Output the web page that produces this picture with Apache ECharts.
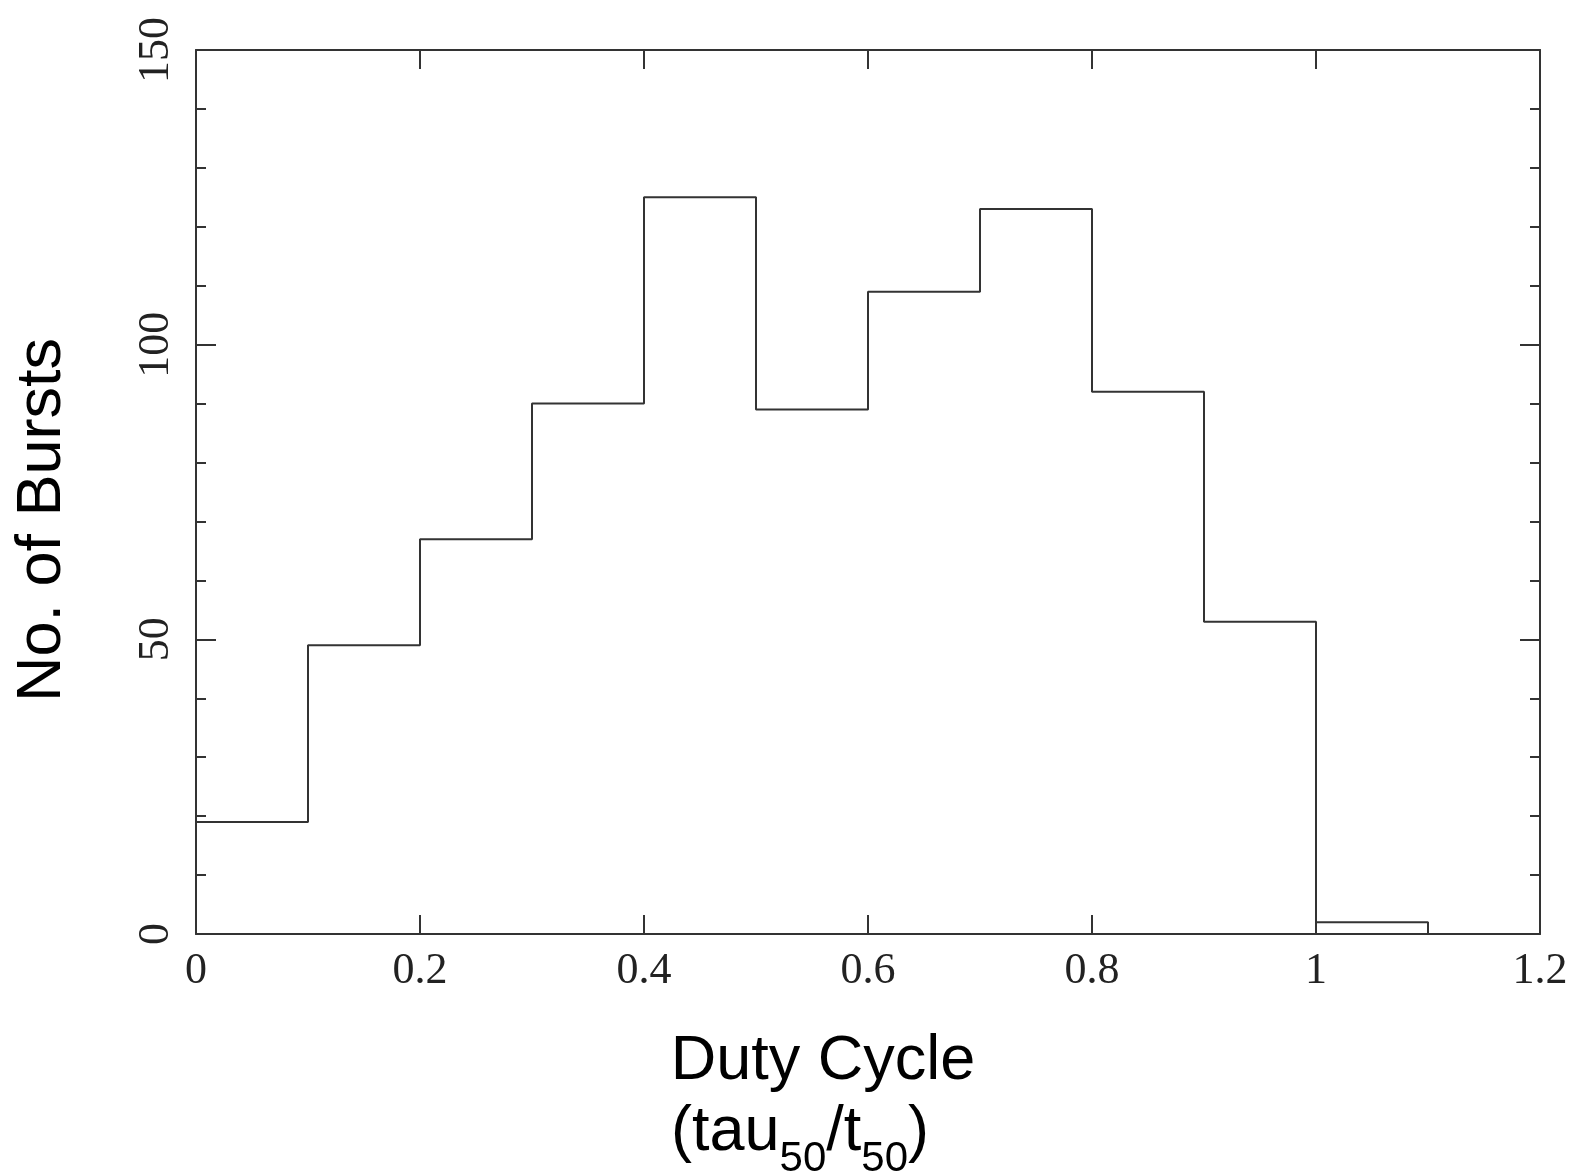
<!DOCTYPE html>
<html>
<head>
<meta charset="utf-8">
<title>Duty Cycle histogram</title>
<script src="https://cdn.jsdelivr.net/npm/echarts@6/dist/echarts.min.js"></script>
<style>
  html, body { margin: 0; padding: 0; background: #ffffff; }
  #chart { width: 1579px; height: 1176px; }
</style>
</head>
<body>
<div id="chart"></div>
<script>
// Histogram bins: left edges of each 0.1-wide duty-cycle bin and burst counts
const binEdges = [0.0, 0.1, 0.2, 0.3, 0.4, 0.5, 0.6, 0.7, 0.8, 0.9, 1.0];
const binWidth = 0.1;
const burstCounts = [19, 49, 67, 90, 125, 89, 109, 123, 92, 53, 2];

// Axis ranges and tick spacing
const xTicks = ['0', '0.2', '0.4', '0.6', '0.8', '1', '1.2'];
const xRange = [0, 1.2, 0.2];
const yRange = [0, 150, 50];

// Outline of the histogram as a stepped line
const outline = [[binEdges[0], 0]];
binEdges.forEach((x, i) => outline.push([x, burstCounts[i]]));
outline.push([binEdges[binEdges.length - 1] + binWidth, 0]);

const ink = '#333333';
const tickFont = { fontFamily: 'Liberation Serif', fontSize: 44, color: '#222222' };

const chart = echarts.init(document.getElementById('chart'), null, { renderer: 'canvas' });

const frameLine = { show: true, onZero: false, lineStyle: { color: ink, width: 2 } };

chart.setOption({
  backgroundColor: '#ffffff',
  animation: false,
  grid: { left: 196, top: 50, right: 39, bottom: 242, containLabel: false },
  xAxis: [
    {
      type: 'value', position: 'bottom', min: xRange[0], max: xRange[1], interval: xRange[2],
      axisLine: frameLine,
      axisTick: { show: true, inside: true, length: 19, lineStyle: { color: ink, width: 2 } },
      minorTick: { show: false },
      splitLine: { show: false },
      axisLabel: Object.assign({ margin: 15,
        formatter: v => xTicks[Math.round(v / xRange[2])] }, tickFont)
    },
    {
      type: 'value', position: 'top', min: xRange[0], max: xRange[1], interval: xRange[2],
      axisLine: frameLine,
      axisTick: { show: true, inside: true, length: 19, lineStyle: { color: ink, width: 2 } },
      splitLine: { show: false },
      axisLabel: { show: false }
    }
  ],
  yAxis: [
    {
      type: 'value', position: 'left', min: yRange[0], max: yRange[1], interval: yRange[2],
      axisLine: frameLine,
      axisTick: { show: true, inside: true, length: 20, lineStyle: { color: ink, width: 2 } },
      minorTick: { show: true, splitNumber: 5, length: 10, lineStyle: { color: ink, width: 2 } },
      splitLine: { show: false },
      minorSplitLine: { show: false },
      axisLabel: Object.assign({ margin: 18, rotate: 90 }, tickFont)
    },
    {
      type: 'value', position: 'right', min: yRange[0], max: yRange[1], interval: yRange[2],
      axisLine: frameLine,
      axisTick: { show: true, inside: true, length: 20, lineStyle: { color: ink, width: 2 } },
      minorTick: { show: true, splitNumber: 5, length: 10, lineStyle: { color: ink, width: 2 } },
      splitLine: { show: false },
      minorSplitLine: { show: false },
      axisLabel: { show: false }
    }
  ],
  series: [
    {
      type: 'line',
      xAxisIndex: 0,
      yAxisIndex: 0,
      step: 'end',
      symbol: 'none',
      data: outline,
      lineStyle: { color: ink, width: 2 },
      silent: true
    }
  ],
  graphic: [
    {
      type: 'text',
      x: 823, y: 1062,
      style: {
        text: 'Duty Cycle',
        fontFamily: 'Liberation Sans', fontSize: 63, fill: '#000000',
        align: 'center', verticalAlign: 'middle'
      }
    },
    {
      type: 'text',
      x: 800, y: 1137,
      style: {
        text: '{m|(tau}{s|50}{m|/t}{s|50}{m|)}',
        fontFamily: 'Liberation Sans', fill: '#000000',
        align: 'center', verticalAlign: 'middle',
        rich: {
          m: { fontFamily: 'Liberation Sans', fontSize: 63, lineHeight: 72, verticalAlign: 'top', fill: '#000000' },
          s: { fontFamily: 'Liberation Sans', fontSize: 42, lineHeight: 72, verticalAlign: 'top', padding: [37, 0, 0, 0], fill: '#000000' }
        }
      }
    },
    {
      type: 'text',
      x: 43, y: 520,
      rotation: Math.PI / 2,
      style: {
        text: 'No. of Bursts',
        fontFamily: 'Liberation Sans', fontSize: 63, fill: '#000000',
        align: 'center', verticalAlign: 'middle'
      }
    }
  ]
});
</script>
</body>
</html>
